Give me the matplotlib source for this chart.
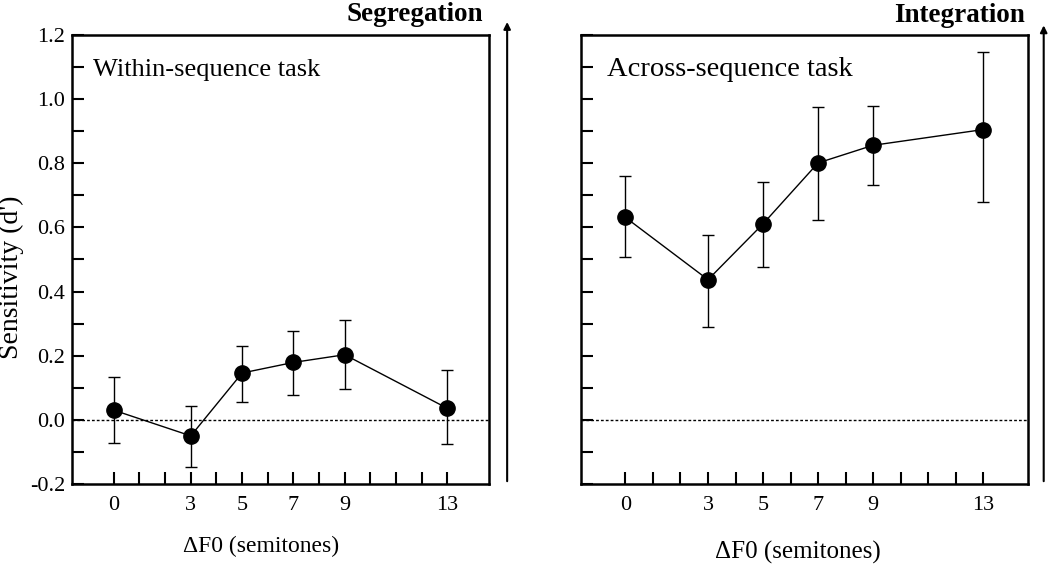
import numpy as np
import matplotlib
matplotlib.use("Agg")
import matplotlib.pyplot as plt

plt.rcParams['font.family'] = ['Liberation Serif', 'DejaVu Serif']

# data
df0 = [0, 3, 5, 7, 9, 13]
tick_labels = ['0', '3', '5', '7', '9', '13']

within_mean = [0.030, -0.050, 0.146, 0.179, 0.203, 0.036]
within_hi = [0.135, 0.044, 0.229, 0.278, 0.310, 0.156]
within_lo = [-0.073, -0.146, 0.055, 0.078, 0.096, -0.076]

across_mean = [0.631, 0.437, 0.611, 0.801, 0.856, 0.905]
across_hi = [0.761, 0.577, 0.742, 0.974, 0.978, 1.146]
across_lo = [0.508, 0.288, 0.476, 0.624, 0.733, 0.679]

yticks = [-0.2, 0.0, 0.2, 0.4, 0.6, 0.8, 1.0, 1.2]

fig = plt.figure(figsize=(10.5, 5.65), dpi=100)
ax1 = fig.add_axes([0.0686, 0.1434, 0.397, 0.7947])
ax2 = fig.add_axes([0.553, 0.1434, 0.4257, 0.7947])


def panel(ax, m, hi, lo, title, tsize, tx, ylab):
    m = np.array(m)
    err = [m - np.array(lo), np.array(hi) - m]
    ax.axhline(0, color='black', lw=1.0, ls=(0, (2, 1.5)), zorder=1)
    ax.errorbar(df0, m, yerr=err, color='black', lw=1.0, elinewidth=1.0,
                capsize=4.3, capthick=1.0, marker='o', markersize=11, zorder=3)
    ax.set_xlim(-1.63, 14.62)
    ax.set_ylim(-0.2, 1.2)
    ax.set_xticks(np.arange(0, 14), minor=True)
    ax.set_xticks(df0)
    ax.set_xticklabels(tick_labels)
    ax.set_yticks(np.arange(-0.2, 1.21, 0.1), minor=True)
    ax.set_yticks(yticks)
    if ylab:
        ax.set_yticklabels(['%.1f' % v for v in yticks])
    else:
        ax.set_yticklabels([])
    ax.tick_params(which='both', direction='in', width=1.5, length=8.5,
                   labelsize=16, pad=5)
    ax.tick_params(axis='x', which='major', pad=9)
    for s in ax.spines.values():
        s.set_linewidth(1.8)
    ax.text(tx, 0.922, title, transform=ax.transAxes, fontsize=tsize,
            va='center', ha='left')


panel(ax1, within_mean, within_hi, within_lo, 'Within-sequence task', 19, 0.05, True)
panel(ax2, across_mean, across_hi, across_lo, 'Across-sequence task', 20.5, 0.06, False)

fig.text(0.011, 0.51, "Sensitivity (d')", fontsize=20, rotation=90,
         ha='center', va='center')
fig.text(0.249, 0.032, '\u0394F0 (semitones)', fontsize=17, ha='center', va='center')
fig.text(0.760, 0.023, '\u0394F0 (semitones)', fontsize=18, ha='center', va='center')

# direction arrows
for x, ytop in [(0.483, 0.966), (0.994, 0.960)]:
    fig.add_artist(matplotlib.patches.FancyArrowPatch(
        (x, 0.1434), (x, ytop), transform=fig.transFigure,
        arrowstyle='-|>', mutation_scale=10, lw=1.5, color='black'))

fig.text(0.395, 0.975, 'Segregation', fontsize=19.5, fontweight='bold',
         ha='center', va='center')
fig.text(0.914, 0.972, 'Integration', fontsize=19.5, fontweight='bold',
         ha='center', va='center')

fig.savefig('out.png', dpi=100)
